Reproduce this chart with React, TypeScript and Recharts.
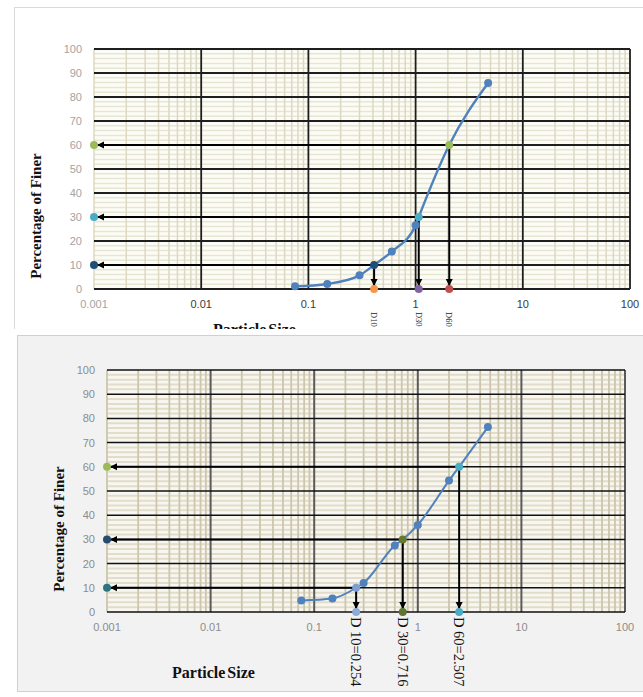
import React from 'react';
import { ComposedChart, XAxis, YAxis, CartesianGrid, Line, Scatter, ReferenceLine } from 'recharts';

// ---------- shared axis ticks ----------
const xTicks = [0.001, 0.01, 0.1, 1, 10, 100];
const yTicks = [0, 10, 20, 30, 40, 50, 60, 70, 80, 90, 100];
const decades = [0.001, 0.01, 0.1, 1, 10];
const minorSteps = [2, 3, 4, 5, 6, 7, 8, 9];
const xMinor: number[] = [0.001];
decades.forEach((d) => minorSteps.forEach((m) => xMinor.push(+(d * m).toPrecision(3))));
const yMinor: number[] = [];
for (let v = 2; v < 100; v += 2) if (v % 10 !== 0) yMinor.push(v);
const xMajor = [0.01, 0.1, 1, 10, 100];
const yMajor = [0, 10, 20, 30, 40, 50, 60, 70, 80, 90, 100];
const dLevels = [10, 30, 60];

// ---------- chart 1 (top) ----------
const sizes1 = [0.075, 0.15, 0.3, 0.6, 1.0, 4.75];
const finer1 = [1.1, 2.1, 5.7, 15.6, 26.6, 85.8];
const dNames1 = ['D10', 'D30', 'D60'];
const dSizes1 = [0.41, 1.07, 2.06];
const dPointColors1 = ['#1f4e79', '#4bacc6', '#9bbb59'];
const leftColors1 = ['#1f4e79', '#4bacc6', '#9bbb59'];
const bottomColors1 = ['#f79646', '#8064a2', '#c0504d'];

// ---------- chart 2 (bottom) ----------
const sizes2 = [0.075, 0.15, 0.3, 0.6, 1.0, 2.0, 4.75];
const finer2 = [4.8, 5.6, 12.0, 27.5, 36.0, 54.3, 76.4];
const dNames2 = ['D 10=0.254', 'D 30=0.716', 'D 60=2.507'];
const dSizes2 = [0.254, 0.716, 2.507];
const dPointColors2 = ['#7f9fd3', '#66792f', '#4bacc6'];
const leftColors2 = ['#2e7580', '#2b4a6f', '#9bbb59'];
const bottomColors2 = ['#8eaad8', '#5f7530', '#4bacc6'];

const LOGMIN = Math.log10(0.001);
const LOGSPAN = Math.log10(100) - LOGMIN;

const vGen = (values: number[]) => (args: any) => {
  const s = args && args.xAxis && args.xAxis.scale;
  const o = args.offset;
  return values.map((v) => {
    if (typeof s === 'function') return s(v);
    if (s && typeof s.map === 'function') return s.map(v);
    return o.left + ((Math.log10(v) - LOGMIN) / LOGSPAN) * o.width;
  });
};
const hGen = (values: number[]) => (args: any) => {
  const s = args && args.yAxis && args.yAxis.scale;
  const o = args.offset;
  return values.map((v) => {
    if (typeof s === 'function') return s(v);
    if (s && typeof s.map === 'function') return s.map(v);
    return o.top + o.height - (v / 100) * o.height;
  });
};

type Cfg = {
  width: number;
  height: number;
  margin: { top: number; right: number; bottom: number; left: number };
  yAxisWidth: number;
  sizes: number[];
  finer: number[];
  dSizes: number[];
  dNames: string[];
  pointColors: string[];
  leftColors: string[];
  bottomColors: string[];
  plotFill: string;
  minorV: [string, number];
  minorH: [string, number];
  majorV: [string, number];
  majorH: [string, number];
  yTickColor: string;
  xTickColor: (v: number) => string;
  labelSize: number;
  labelOffset: number;
  labelColor: string;
  lineWidth: number;
};

function GradingChart({ cfg }: { cfg: Cfg }) {
  const points = cfg.sizes.map((x, i) => ({ x, y: cfg.finer[i] }));
  const dPts = cfg.dSizes.map((x, i) => ({ x, y: dLevels[i], color: cfg.pointColors[i] }));
  const curve = [...points, ...dPts.map((p) => ({ x: p.x, y: p.y }))].sort((a, b) => a.x - b.x);
  const leftPts = dLevels.map((y, i) => ({ x: 0.001, y, color: cfg.leftColors[i] }));
  const bottomPts = cfg.dSizes.map((x, i) => ({ x, y: 0, color: cfg.bottomColors[i], label: cfg.dNames[i] }));

  const LeftShape = (p: any) => (
    <g>
      <path d={`M${p.cx + 3},${p.cy} L${p.cx + 10},${p.cy - 3.5} L${p.cx + 10},${p.cy + 3.5} Z`} fill="#000" />
      <circle cx={p.cx} cy={p.cy} r={4} fill={p.payload.color} />
    </g>
  );
  const BottomShape = (p: any) => {
    const ly = p.cy + cfg.labelOffset;
    return (
      <g>
        <path d={`M${p.cx},${p.cy - 3} L${p.cx - 3.5},${p.cy - 10} L${p.cx + 3.5},${p.cy - 10} Z`} fill="#000" />
        <circle cx={p.cx} cy={p.cy} r={4} fill={p.payload.color} />
        <text
          x={p.cx}
          y={ly}
          transform={`rotate(90 ${p.cx} ${ly})`}
          textAnchor="start"
          dominantBaseline="central"
          fontSize={cfg.labelSize}
          fontFamily="'Liberation Serif', 'Times New Roman', serif"
          fill={cfg.labelColor}
        >
          {p.payload.label}
        </text>
      </g>
    );
  };
  const DotShape = (p: any) => <circle cx={p.cx} cy={p.cy} r={4} fill={p.payload.color || '#4f81bd'} />;

  const YTick = (p: any) => (
    <text x={p.x - 12} y={p.y} textAnchor="end" dominantBaseline="central" fontSize={11}
      fontFamily="'Liberation Sans', Arial, sans-serif" fill={cfg.yTickColor}>
      {p.payload.value}
    </text>
  );
  const XTick = (p: any) => (
    <text x={p.x} y={p.y + 15} textAnchor="middle" dominantBaseline="central" fontSize={11}
      fontFamily="'Liberation Sans', Arial, sans-serif" fill={cfg.xTickColor(p.payload.value)}>
      {String(p.payload.value)}
    </text>
  );

  return (
    <ComposedChart width={cfg.width} height={cfg.height} margin={cfg.margin}>
      <CartesianGrid fill={cfg.plotFill} fillOpacity={1} vertical={false}
        horizontalCoordinatesGenerator={hGen(yMinor)} stroke={cfg.minorH[0]} strokeWidth={cfg.minorH[1]} />
      <CartesianGrid horizontal={false}
        verticalCoordinatesGenerator={vGen(xMinor)} stroke={cfg.minorV[0]} strokeWidth={cfg.minorV[1]} />
      <CartesianGrid horizontal={false}
        verticalCoordinatesGenerator={vGen(xMajor)} stroke={cfg.majorV[0]} strokeWidth={cfg.majorV[1]} />
      <CartesianGrid vertical={false}
        horizontalCoordinatesGenerator={hGen(yMajor)} stroke={cfg.majorH[0]} strokeWidth={cfg.majorH[1]} />
      <XAxis dataKey="x" type="number" scale="log" domain={[0.001, 100]} ticks={xTicks} interval={0}
        axisLine={false} tickLine={false} tickSize={0} tickMargin={0} height={30} tick={XTick} />
      <YAxis dataKey="y" type="number" domain={[0, 100]} ticks={yTicks} interval={0} width={cfg.yAxisWidth}
        axisLine={false} tickLine={false} tickSize={0} tickMargin={0} tick={YTick} />
      {dPts.map((p, i) => (
        <ReferenceLine key={'h' + i} segment={[{ x: p.x, y: p.y }, { x: 0.001, y: p.y }]} stroke="#000" strokeWidth={2} />
      ))}
      {dPts.map((p, i) => (
        <ReferenceLine key={'v' + i} segment={[{ x: p.x, y: p.y }, { x: p.x, y: 0 }]} stroke="#000" strokeWidth={2} />
      ))}
      <Line data={curve} dataKey="y" type="monotone" stroke="#4f81bd" strokeWidth={cfg.lineWidth} dot={false}
        activeDot={false} isAnimationActive={false} />
      <Scatter data={points} dataKey="y" shape={DotShape} isAnimationActive={false} />
      <Scatter data={dPts} dataKey="y" shape={DotShape} isAnimationActive={false} />
      <Scatter data={leftPts} dataKey="y" shape={LeftShape} isAnimationActive={false} />
      <Scatter data={bottomPts} dataKey="y" shape={BottomShape} isAnimationActive={false} />
    </ComposedChart>
  );
}

const cfg1: Cfg = {
  width: 643,
  height: 329,
  margin: { top: 49, right: 13, bottom: 10, left: 0 },
  yAxisWidth: 94,
  sizes: sizes1,
  finer: finer1,
  dSizes: dSizes1,
  dNames: dNames1,
  pointColors: dPointColors1,
  leftColors: leftColors1,
  bottomColors: bottomColors1,
  plotFill: '#fcfcf6',
  minorV: ['#dcd8c2', 1.5],
  minorH: ['#e8e5d4', 1.5],
  majorV: ['#1e1e1e', 1.8],
  majorH: ['#1e1e1e', 1.8],
  yTickColor: '#a3a3a3',
  xTickColor: (v: number) => (v === 0.001 ? '#a3a3a3' : '#3a3a3a'),
  labelSize: 8.5,
  labelOffset: 23,
  labelColor: '#222',
  lineWidth: 2.4,
};

const cfg2: Cfg = {
  width: 643,
  height: 367,
  margin: { top: 40, right: 18, bottom: 55, left: 0 },
  yAxisWidth: 107,
  sizes: sizes2,
  finer: finer2,
  dSizes: dSizes2,
  dNames: dNames2,
  pointColors: dPointColors2,
  leftColors: leftColors2,
  bottomColors: bottomColors2,
  plotFill: '#f7f6f0',
  minorV: ['#cdc6ac', 1.8],
  minorH: ['#e2ddca', 2],
  majorV: ['#5a5a5a', 2],
  majorH: ['#111111', 1.5],
  yTickColor: '#8c8c8c',
  xTickColor: () => '#8c8c8c',
  labelSize: 14.5,
  labelOffset: 5,
  labelColor: '#111',
  lineWidth: 2,
};

const serif = "'Liberation Serif', 'Times New Roman', serif";

export default function App() {
  return (
    <div style={{ position: 'absolute', left: 0, top: 0, width: 643, height: 697, overflow: 'hidden', background: '#ffffff' }}>
      {/* top chart */}
      <div style={{ position: 'absolute', left: 0, top: 0, width: 643, height: 329, overflow: 'hidden', background: '#fff' }}>
        <div style={{ position: 'absolute', left: 14, top: 7, width: 660, height: 400, border: '1px solid #dadada', boxSizing: 'border-box' }} />
        <div style={{ position: 'absolute', left: 0, top: 0 }}>
          <GradingChart cfg={cfg1} />
        </div>
        <div style={{ position: 'absolute', left: 36, top: 216, transform: 'translate(-50%, -50%) rotate(-90deg)', whiteSpace: 'nowrap', fontFamily: serif, fontWeight: 'bold', fontSize: 15, lineHeight: 1, color: '#111' }}>
          Percentage of Finer
        </div>
        <div style={{ position: 'absolute', left: 213, top: 322, whiteSpace: 'nowrap', fontFamily: serif, fontWeight: 'bold', fontSize: 16, lineHeight: 1, wordSpacing: -2, color: '#111' }}>
          Particle Size
        </div>
      </div>
      {/* bottom chart */}
      <div style={{ position: 'absolute', left: 17, top: 335, width: 660, height: 357, background: '#f2f2f2', border: '1px solid #d0d0d0', boxSizing: 'border-box' }} />
      <div style={{ position: 'absolute', left: 0, top: 330 }}>
        <GradingChart cfg={cfg2} />
      </div>
      <div style={{ position: 'absolute', left: 59, top: 529, transform: 'translate(-50%, -50%) rotate(-90deg)', whiteSpace: 'nowrap', fontFamily: serif, fontWeight: 'bold', fontSize: 15, lineHeight: 1, color: '#111' }}>
        Percentage of Finer
      </div>
      <div style={{ position: 'absolute', left: 172, top: 665, whiteSpace: 'nowrap', fontFamily: serif, fontWeight: 'bold', fontSize: 16, lineHeight: 1, wordSpacing: -2, color: '#111' }}>
        Particle Size
      </div>
    </div>
  );
}
